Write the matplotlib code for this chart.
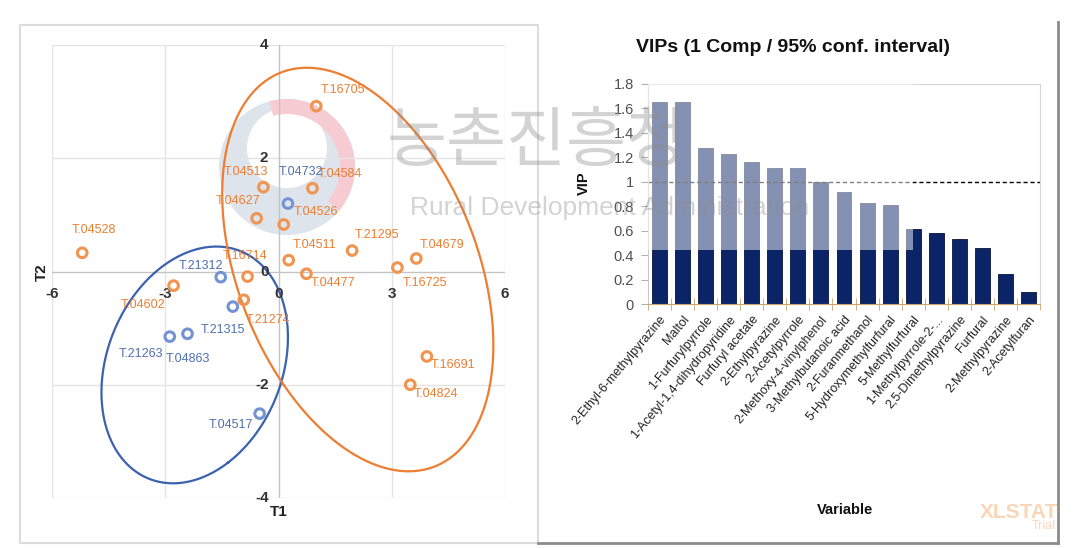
import numpy as np
import matplotlib
matplotlib.use("Agg")
import matplotlib.pyplot as plt
from matplotlib.patches import Rectangle, Circle, Wedge

plt.rcParams['font.family'] = ['Liberation Sans', 'DejaVu Sans']

# ---- score plot data (T1 / T2) ----
orange_names = ["T.16705", "T.04513", "T.04584", "T.04627", "T.04526", "T.04528",
                "T.04511", "T.21295", "T.04679", "T.16725", "T.04477", "T.16714",
                "T.04602", "T.21274", "T.16691", "T.04824"]
orange_t1 = [1.0, -0.4, 0.9, -0.58, 0.14, -5.2, 0.27, 1.95, 3.65, 3.15, 0.74, -0.82,
             -2.78, -0.92, 3.93, 3.49]
orange_t2 = [2.92, 1.49, 1.47, 0.94, 0.83, 0.33, 0.2, 0.37, 0.23, 0.07, -0.04, -0.09,
             -0.25, -0.5, -1.5, -2.0]

blue_names = ["T.04732", "T.21312", "T.21315", "T.21263", "T.04863", "T.04517"]
blue_t1 = [0.25, -1.53, -1.21, -2.88, -2.41, -0.5]
blue_t2 = [1.2, -0.1, -0.62, -1.15, -1.1, -2.51]

# confidence ellipses: centre and covariance
blue_centre = [-2.22, -1.65]
blue_cov = [[6.1, 1.2], [1.2, 4.37]]
orange_centre = [2.1, 0.035]
orange_cov = [[12.9, -4.8], [-4.8, 12.7]]

x_ticks = [-6, -3, 0, 3, 6]
y_ticks = [4, 2, 0, -2, -4]

# ---- VIP data ----
variables = ["2-Ethyl-6-methylpyrazine", "Maltol", "1-Furfurylpyrrole",
             "1-Acetyl-1,4-dihydropyridine", "Furfuryl acetate", "2-Ethylpyrazine",
             "2-Acetylpyrrole", "2-Methoxy-4-vinylphenol", "3-Methylbutanoic acid",
             "2-Furanmethanol", "5-Hydroxymethylfurfural", "5-Methylfurfural",
             "1-Methylpyrrole-2-...", "2,5-Dimethylpyrazine", "Furfural",
             "2-Methylpyrazine", "2-Acetylfuran"]
vip = [1.65, 1.65, 1.28, 1.225, 1.165, 1.115, 1.115, 0.995, 0.92, 0.83, 0.81,
       0.61, 0.585, 0.535, 0.455, 0.245, 0.095]
vip_ticks = [0, 0.2, 0.4, 0.6, 0.8, 1, 1.2, 1.4, 1.6, 1.8]
vip_ticklabels = ["0", "0.2", "0.4", "0.6", "0.8", "1", "1.2", "1.4", "1.6", "1.8"]

# label offsets in pixels (dx, dy, ha) -- placement only
orange_off = {"T.16705": (4, 16, 'left'), "T.04513": (5, 15, 'right'),
              "T.04584": (5, 14, 'left'), "T.04627": (4, 17, 'right'),
              "T.04526": (10, 13, 'left'), "T.04528": (-10, 23, 'left'),
              "T.04511": (4, 15, 'left'), "T.21295": (3, 16, 'left'),
              "T.04679": (3, 13, 'left'), "T.16725": (5, -15, 'left'),
              "T.04477": (4, -9, 'left'), "T.16714": (-3, 21, 'center'),
              "T.04602": (-8, -19, 'right'), "T.21274": (2, -20, 'left'),
              "T.16691": (4, -9, 'left'), "T.04824": (3, -9, 'left')}
blue_off = {"T.04732": (-9, 32, 'left'), "T.21312": (2, 11, 'right'),
            "T.21315": (-10, -23, 'center'), "T.21263": (-7, -17, 'right'),
            "T.04863": (0, -25, 'center'), "T.04517": (-6, -11, 'right')}

ORANGE = '#ED7D31'
BLUE = '#4472C4'

fig = plt.figure(figsize=(10.82, 5.48), dpi=100)

# background layer in pixel coordinates
ax_bg = fig.add_axes([0, 0, 1, 1], zorder=0)
ax_bg.set_xlim(0, 1082)
ax_bg.set_ylim(548, 0)
ax_bg.axis('off')
ax_bg.add_patch(Rectangle((20, 25), 518, 518, fill=False, ec='#dcdcdc', lw=1.5))
ax_bg.plot([538, 1058], [543, 543], color='#8c8c8c', lw=2)
ax_bg.plot([1058, 1058], [22, 543], color='#8c8c8c', lw=2)
# faint logo of the watermark
ax_bg.add_patch(Circle((287, 167), 68, color='#dbe2ea', alpha=0.9, lw=0))
ax_bg.add_patch(Circle((287, 148), 40, color='white', lw=0))
ax_bg.add_patch(Wedge((287, 167), 68, -105, 40, width=15, color='#f6ccd2', lw=0))
ax_bg.text(1058, 512, "XLSTAT", ha='right', va='center', fontsize=15,
           fontweight='bold', color='#f9d6b8')
ax_bg.text(1056, 526, "Trial", ha='right', va='center', fontsize=9, color='#f9d6b8')

# ---- left: score plot ----
ax1 = fig.add_axes([52 / 1082, 1 - 498 / 548, 453 / 1082, 453 / 548], zorder=1)
ax1.set_facecolor('none')
ax1.set_xlim(-6, 6)
ax1.set_ylim(-4, 4)
ax1.axis('off')
for v in [-6, -3, 3, 6]:
    ax1.axvline(v, color='#e4e4e4', lw=1, zorder=0)
for h in [-4, -2, 2, 4]:
    ax1.axhline(h, color='#e4e4e4', lw=1, zorder=0)
ax1.axvline(0, color='#c4c4c4', lw=1, zorder=0.5)
ax1.axhline(0, color='#c4c4c4', lw=1, zorder=0.5)

for v in x_ticks:
    ax1.annotate(str(v), (v, 0), xytext=(0, -16), textcoords='offset pixels',
                 ha='center', va='top', fontsize=11, fontweight='bold', color='#333333')
for v in y_ticks:
    ax1.annotate(str(v), (0, v), xytext=(-10, 0), textcoords='offset pixels',
                 ha='right', va='center', fontsize=11, fontweight='bold', color='#333333')
fig.text(42 / 1082, 1 - 272 / 548, "T2", rotation=90, ha='center', va='center',
         fontsize=11, fontweight='bold', color='#222222')
fig.text(279 / 1082, 1 - 512 / 548, "T1", ha='center', va='center',
         fontsize=11, fontweight='bold', color='#222222')


def ellipse(centre, cov, n=300):
    vals, vecs = np.linalg.eigh(np.array(cov))
    t = np.linspace(0, 2 * np.pi, n)
    circ = np.vstack([np.cos(t), np.sin(t)])
    pts = vecs @ np.diag(np.sqrt(vals)) @ circ
    return pts[0] + centre[0], pts[1] + centre[1]


ex, ey = ellipse(blue_centre, blue_cov)
ax1.plot(ex, ey, color='#3a62b0', lw=1.6, zorder=2)
ex, ey = ellipse(orange_centre, orange_cov)
ax1.plot(ex, ey, color=ORANGE, lw=1.6, zorder=2)

ax1.scatter(orange_t1, orange_t2, s=48, facecolors='none', edgecolors='#F0944F',
            linewidths=2.2, zorder=3)
ax1.scatter(blue_t1, blue_t2, s=48, facecolors='none', edgecolors='#7393D3',
            linewidths=2.2, zorder=3)
for n, x, y in zip(orange_names, orange_t1, orange_t2):
    dx, dy, ha = orange_off[n]
    ax1.annotate(n, (x, y), xytext=(dx, dy), textcoords='offset pixels', ha=ha,
                 va='center', fontsize=9, color=ORANGE, zorder=4)
for n, x, y in zip(blue_names, blue_t1, blue_t2):
    dx, dy, ha = blue_off[n]
    ax1.annotate(n, (x, y), xytext=(dx, dy), textcoords='offset pixels', ha=ha,
                 va='center', fontsize=9, color='#4F6FB0', zorder=4)

# ---- right: VIP bars ----
ax2 = fig.add_axes([648 / 1082, 1 - 304 / 548, 392 / 1082, 220 / 548], zorder=1)
xpos = np.arange(len(variables))
ax2.bar(xpos, vip, width=0.65, color='#0B2467', edgecolor='#061538', lw=0.6, zorder=2)
ax2.axhline(1, color='black', lw=1, ls=(0, (3, 2)), zorder=2.5)
# lighter band left by the watermark box
ax2.add_patch(Rectangle((-0.5, 0.445), 11.5, 1.4, color='white', alpha=0.5,
                        lw=0, zorder=3, clip_on=True))
ax2.set_xlim(-0.5, len(variables) - 0.5)
ax2.set_ylim(0, 1.8)
ax2.set_yticks(vip_ticks)
ax2.set_yticklabels(vip_ticklabels, fontsize=10.5, color='#505050')
ax2.tick_params(axis='y', length=5, color='#b0b0b0', pad=5)
ax2.set_xticks(xpos)
ax2.set_xticklabels(variables, rotation=50, ha='right', rotation_mode='anchor',
                    fontsize=9, color='#222222')
ax2.tick_params(axis='x', which='major', length=0, pad=7)
ax2.set_xticks(np.arange(len(variables) + 1) - 0.5, minor=True)
ax2.tick_params(axis='x', which='minor', length=8, direction='inout', color='#c9a66f')
ax2.spines['bottom'].set_color('#c9a66f')
ax2.spines['left'].set_color('#c8c8c8')
ax2.spines['top'].set_color('#d6d6d6')
ax2.spines['right'].set_color('#d6d6d6')

fig.text(793 / 1082, 1 - 48 / 548, "VIPs (1 Comp / 95% conf. interval)", ha='center',
         va='center', fontsize=14, fontweight='bold', color='#111111')
fig.text(845 / 1082, 1 - 510 / 548, "Variable", ha='center', va='center',
         fontsize=10.5, fontweight='bold', color='#111111')
fig.text(584 / 1082, 1 - 183 / 548, "VIP", rotation=90, ha='center', va='center',
         fontsize=10.5, fontweight='bold', color='#111111')

# ---- watermark text on top ----
ax_wm = fig.add_axes([0, 0, 1, 1], zorder=5)
ax_wm.set_facecolor('none')
ax_wm.set_xlim(0, 1082)
ax_wm.set_ylim(548, 0)
ax_wm.axis('off')
ax_wm.text(537, 143, "농촌진흥청", ha='center', va='center', fontsize=47,
           family=['Noto Sans CJK KR', 'DejaVu Sans'], color='#8c8c8c', alpha=0.38)
ax_wm.text(610, 208, "Rural Development Administration", ha='center', va='center',
           fontsize=19, color='#8c8c8c', alpha=0.38)

fig.savefig("out.png", dpi=100)
